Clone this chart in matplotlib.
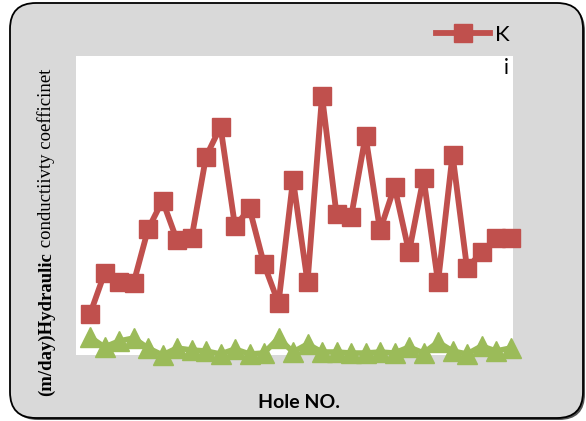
import matplotlib
matplotlib.use("Agg")
import matplotlib.pyplot as plt
from matplotlib.patches import FancyBboxPatch
from matplotlib.lines import Line2D

holes = list(range(1, 31))
K = [0.41, 0.82, 0.73, 0.72, 1.26, 1.55, 1.15, 1.17, 1.99, 2.29,
     1.29, 1.47, 0.91, 0.52, 1.76, 0.73, 2.60, 1.41, 1.38, 2.20,
     1.25, 1.69, 1.03, 1.78, 0.73, 2.01, 0.87, 1.03, 1.17, 1.17]
i_vals = [0.18, 0.08, 0.14, 0.17, 0.07, 0.00, 0.07, 0.05, 0.04, 0.01,
          0.06, 0.01, 0.02, 0.17, 0.03, 0.11, 0.03, 0.03, 0.02, 0.02,
          0.03, 0.02, 0.08, 0.02, 0.13, 0.04, 0.01, 0.09, 0.04, 0.07]

RED = "#C0504D"
GREEN = "#9BBB59"
BG = "#D9D9D9"

W, H = 586, 421
fig = plt.figure(figsize=(W / 100, H / 100), dpi=100)
fig.patch.set_facecolor("white")

# shadow + rounded grey frame (display pixel coords)
shadow = FancyBboxPatch((12, 1), 573, 415, boxstyle="round,pad=0,rounding_size=26",
                        transform=None, facecolor="#555555", edgecolor="none", zorder=-3)
frame = FancyBboxPatch((10, 3), 573, 415, boxstyle="round,pad=0,rounding_size=26",
                       transform=None, facecolor=BG, edgecolor="black", linewidth=1.3, zorder=-2)
fig.patches.extend([shadow, frame])

ax = fig.add_axes([76 / W, 1 - 355 / H, (513 - 76) / W, (355 - 56) / H])
ax.set_facecolor("white")
for s in ax.spines.values():
    s.set_visible(False)
ax.set_xticks([])
ax.set_yticks([])
ax.set_xlim(0.034, 30.17)
ax.set_ylim(0, 3.0)

ax.plot(holes, i_vals, color=GREEN, linewidth=4, marker="^", markersize=14.5,
        markerfacecolor=GREEN, markeredgecolor=GREEN, clip_on=False, zorder=3)
ax.plot(holes, K, color=RED, linewidth=4.2, marker="s", markersize=13.5,
        markerfacecolor=RED, markeredgecolor=RED, clip_on=False, zorder=4)

# legend
h = Line2D([], [], color=RED, linewidth=4.2, marker="s", markersize=13.5,
           markerfacecolor=RED, markeredgecolor=RED)
fig.legend([h], ["K"], loc="center left", bbox_to_anchor=(436 / W, 1 - 35 / H),
           frameon=False, prop={"family": "Lato", "size": 16}, handlelength=2.45,
           handletextpad=0.2, borderpad=0, borderaxespad=0)
fig.text(506 / W, 1 - 68 / H, "i", fontsize=15, family="Lato", ha="center", va="center")

# x label
fig.text(299 / W, 1 - 402 / H, "Hole NO.", fontsize=14, family="Lato", fontweight="bold",
         ha="center", va="center")

# y label (bold part + regular part)
fig.canvas.draw()
r = fig.canvas.get_renderer()
t1 = fig.text(46 / W, 1 - 396 / H, "(m/day)Hydraulic", rotation=90, fontsize=13.5,
              family="Liberation Serif", fontweight="bold", ha="center", va="bottom")
bb = t1.get_window_extent(renderer=r)
fig.text(46 / W, bb.y1 / H, " conductiivty coefficinet", rotation=90, fontsize=13.5,
         family="Liberation Serif", ha="center", va="bottom")

fig.savefig("out.png", dpi=100, facecolor="white")
